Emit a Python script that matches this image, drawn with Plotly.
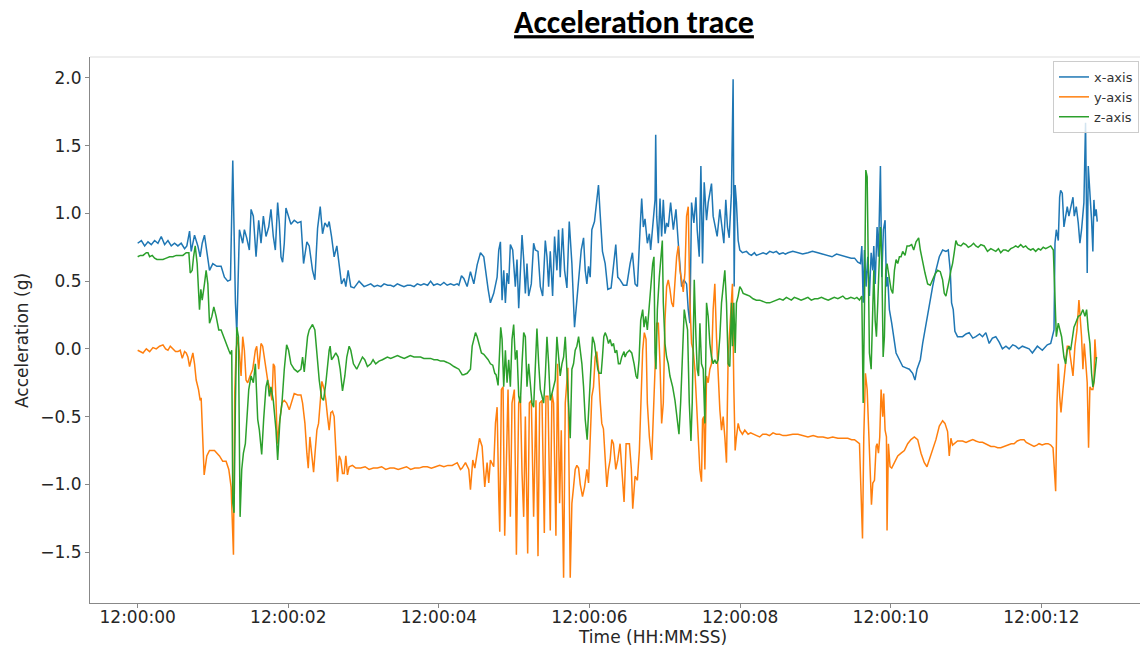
import pandas as pd
import plotly.graph_objects as go

# ---------------- data (seconds after 12:00:00, acceleration in g) ----------------
START = "2021-01-01 12:00:00"

x_axis_pts = [
    (0.000,0.78),(0.049,0.80),(0.093,0.76),(0.137,0.79),(0.181,0.77),(0.225,0.80),(0.269,0.78),(0.313,0.83),
    (0.358,0.77),(0.402,0.80),(0.446,0.76),(0.490,0.78),(0.534,0.76),(0.578,0.78),(0.623,0.74),(0.653,0.76),
    (0.689,0.87),(0.711,0.72),(0.755,0.84),(0.799,0.76),(0.830,0.68),(0.857,0.78),(0.887,0.84),(0.918,0.73),
    (0.954,0.58),(0.998,0.63),(1.051,0.61),(1.108,0.61),(1.152,0.53),(1.196,0.50),(1.232,0.51),(1.263,1.39),
    (1.298,0.34),(1.316,0.12),(1.351,0.88),(1.395,0.78),(1.417,0.88),(1.448,0.82),(1.483,0.73),(1.506,1.03),
    (1.536,0.98),(1.572,0.68),(1.607,0.95),(1.638,0.78),(1.669,0.98),(1.704,0.83),(1.740,0.90),(1.770,1.03),
    (1.801,0.83),(1.828,0.73),(1.859,1.08),(1.881,0.93),(1.903,0.68),(1.925,0.64),(1.947,0.78),(1.969,1.04),
    (2.004,0.98),(2.035,0.92),(2.079,0.95),(2.124,0.93),(2.168,0.94),(2.203,0.63),(2.247,0.79),(2.278,0.76),
    (2.322,0.58),(2.353,0.51),(2.389,0.89),(2.424,1.05),(2.455,0.85),(2.486,0.93),(2.521,0.90),(2.543,0.94),
    (2.574,0.83),(2.609,0.68),(2.645,0.76),(2.676,0.63),(2.707,0.48),(2.742,0.52),(2.764,0.46),(2.795,0.58),
    (2.830,0.46),(2.874,0.45),(2.940,0.50),(3.007,0.46),(3.050,0.47),(3.095,0.48),(3.140,0.46),(3.183,0.47),
    (3.230,0.46),(3.272,0.48),(3.320,0.47),(3.360,0.47),(3.400,0.46),(3.448,0.48),(3.490,0.47),(3.536,0.46),
    (3.580,0.47),(3.625,0.47),(3.670,0.46),(3.713,0.48),(3.760,0.47),(3.801,0.48),(3.850,0.47),(3.890,0.50),
    (3.930,0.47),(3.978,0.48),(4.020,0.47),(4.066,0.49),(4.110,0.47),(4.155,0.48),(4.200,0.47),(4.243,0.48),
    (4.265,0.47),(4.300,0.54),(4.331,0.52),(4.375,0.46),(4.419,0.57),(4.464,0.48),(4.508,0.62),(4.552,0.71),
    (4.596,0.68),(4.618,0.58),(4.654,0.44),(4.684,0.34),(4.728,0.41),(4.773,0.53),(4.795,0.73),(4.817,0.79),
    (4.839,0.36),(4.861,0.58),(4.883,0.34),(4.905,0.56),(4.927,0.48),(4.949,0.77),(4.980,0.73),(5.015,0.46),
    (5.037,0.66),(5.060,0.30),(5.082,0.53),(5.104,0.84),(5.126,0.66),(5.148,0.41),(5.170,0.63),(5.192,0.39),
    (5.227,0.48),(5.258,0.78),(5.280,0.73),(5.316,0.72),(5.347,0.46),(5.378,0.39),(5.413,0.80),(5.435,0.68),
    (5.457,0.46),(5.479,0.72),(5.510,0.39),(5.536,0.83),(5.567,0.58),(5.589,0.88),(5.611,0.53),(5.642,0.89),
    (5.669,0.58),(5.700,0.45),(5.731,0.94),(5.766,0.63),(5.801,0.16),(5.832,0.36),(5.863,0.58),(5.890,0.73),
    (5.921,0.82),(5.943,0.58),(5.965,0.48),(5.987,0.61),(6.009,0.53),(6.031,0.88),(6.066,0.94),(6.097,1.08),
    (6.119,1.21),(6.141,1.00),(6.172,0.72),(6.208,0.63),(6.243,0.44),(6.287,0.45),(6.318,0.63),(6.349,0.77),
    (6.375,0.53),(6.406,0.51),(6.450,0.47),(6.495,0.47),(6.539,0.63),(6.570,0.71),(6.605,0.48),(6.636,0.46),
    (6.671,0.88),(6.693,1.11),(6.715,0.90),(6.737,0.96),(6.768,0.78),(6.795,0.85),(6.812,0.73),(6.848,0.95),
    (6.870,1.10),(6.879,1.58),(6.892,0.98),(6.914,0.78),(6.936,1.11),(6.958,0.83),(6.980,1.10),(7.002,0.85),
    (7.024,0.93),(7.046,0.90),(7.077,1.08),(7.113,0.88),(7.148,1.03),(7.179,0.78),(7.201,0.64),(7.223,0.46),
    (7.254,0.51),(7.289,0.48),(7.311,0.29),(7.333,0.19),(7.355,1.08),(7.386,0.93),(7.413,1.12),(7.430,0.88),
    (7.457,0.68),(7.479,1.35),(7.501,0.63),(7.523,1.23),(7.554,0.95),(7.576,1.08),(7.598,1.15),(7.620,1.22),
    (7.642,0.98),(7.669,0.90),(7.695,0.83),(7.731,1.03),(7.757,0.88),(7.784,0.78),(7.810,1.10),(7.832,0.90),
    (7.855,0.82),(7.885,1.15),(7.907,1.99),(7.921,0.46),(7.934,1.21),(7.951,1.08),(7.974,0.80),(7.996,0.73),
    (8.031,0.71),(8.084,0.72),(8.120,0.70),(8.150,0.69),(8.190,0.71),(8.216,0.69),(8.260,0.70),(8.305,0.71),
    (8.350,0.70),(8.393,0.72),(8.440,0.71),(8.481,0.72),(8.520,0.70),(8.570,0.71),(8.600,0.70),(8.636,0.71),
    (8.700,0.72),(8.768,0.71),(8.830,0.70),(8.901,0.71),(8.960,0.72),(9.033,0.71),(9.100,0.70),(9.166,0.69),
    (9.220,0.68),(9.280,0.70),(9.342,0.69),(9.400,0.68),(9.475,0.67),(9.520,0.67),(9.563,0.64),(9.598,0.63),
    (9.616,0.76),(9.634,0.34),(9.651,0.73),(9.673,0.46),(9.695,0.68),(9.717,0.39),(9.740,0.71),(9.762,0.58),
    (9.775,0.76),(9.793,0.48),(9.819,0.90),(9.837,0.68),(9.863,1.35),(9.881,0.53),(9.903,0.88),(9.925,0.95),
    (9.943,0.46),(9.960,0.53),(9.982,0.29),(10.013,0.19),(10.049,0.07),(10.071,-0.03),(10.115,-0.08),
    (10.159,-0.13),(10.203,-0.14),(10.247,-0.15),(10.291,-0.18),(10.322,-0.23),(10.349,-0.15),(10.393,-0.08),
    (10.424,0.04),(10.468,0.19),(10.512,0.34),(10.556,0.46),(10.600,0.58),(10.645,0.68),(10.689,0.73),
    (10.733,0.72),(10.764,0.73),(10.790,0.58),(10.808,0.34),(10.830,0.29),(10.852,0.13),(10.887,0.09),
    (10.954,0.09),(11.000,0.11),(11.042,0.12),(11.090,0.08),(11.130,0.09),(11.180,0.11),(11.219,0.09),
    (11.263,0.12),(11.307,0.04),(11.350,0.08),(11.395,0.09),(11.440,0.05),(11.483,0.00),(11.530,0.02),
    (11.572,0.00),(11.620,0.03),(11.660,0.02),(11.700,0.00),(11.748,0.02),(11.790,0.01),(11.837,0.00),
    (11.881,-0.03),(11.947,0.02),(12.013,-0.01),(12.079,0.03),(12.124,0.04),(12.146,0.09),(12.168,0.14),
    (12.181,0.78),(12.199,0.88),(12.225,0.80),(12.243,1.12),(12.256,1.17),(12.278,1.15),(12.300,0.90),
    (12.322,0.98),(12.344,1.05),(12.366,0.98),(12.389,1.05),(12.420,1.12),(12.437,0.98),(12.464,1.05),
    (12.490,0.93),(12.512,0.78),(12.534,0.88),(12.565,1.08),(12.587,1.67),(12.609,0.56),(12.623,1.35),
    (12.640,1.20),(12.667,0.95),(12.684,0.72),(12.698,1.10),(12.711,0.98),(12.728,1.03),(12.742,0.94),
]

y_axis_pts = [
    (0.000,-0.01),(0.071,-0.03),(0.115,0.00),(0.159,-0.02),(0.203,0.01),(0.247,0.00),(0.291,0.02),(0.336,0.03),
    (0.371,0.00),(0.402,-0.01),(0.433,0.02),(0.468,0.00),(0.503,-0.02),(0.534,-0.02),(0.565,-0.01),(0.592,-0.07),
    (0.623,-0.02),(0.645,-0.03),(0.667,-0.06),(0.689,-0.13),(0.711,-0.08),(0.733,-0.03),(0.755,-0.11),(0.777,-0.23),
    (0.808,-0.30),(0.830,-0.38),(0.843,-0.36),(0.865,-0.72),(0.883,-0.93),(0.918,-0.79),(0.954,-0.75),(1.020,-0.75),
    (1.086,-0.79),(1.130,-0.83),(1.174,-0.83),(1.210,-0.89),(1.241,-1.02),(1.272,-1.52),(1.289,-0.33),(1.307,-0.01),
    (1.329,0.09),(1.351,-0.03),(1.373,-0.20),(1.395,0.09),(1.417,-0.01),(1.439,-0.23),(1.461,-0.25),(1.492,-0.20),
    (1.528,-0.15),(1.563,-0.01),(1.581,0.02),(1.607,-0.15),(1.638,0.04),(1.660,0.02),(1.695,-0.11),(1.726,-0.23),
    (1.757,-0.30),(1.784,-0.38),(1.801,-0.11),(1.819,-0.13),(1.837,-0.38),(1.854,-0.70),(1.881,-0.55),(1.916,-0.40),
    (1.947,-0.38),(1.978,-0.40),(2.013,-0.45),(2.057,-0.38),(2.079,-0.33),(2.124,-0.34),(2.168,-0.34),(2.190,-0.40),
    (2.221,-0.55),(2.247,-0.77),(2.265,-0.88),(2.287,-0.65),(2.309,-0.77),(2.336,-0.91),(2.358,-0.75),(2.380,-0.60),
    (2.402,-0.55),(2.424,-0.40),(2.446,-0.24),(2.477,-0.30),(2.499,-0.38),(2.521,-0.50),(2.543,-0.60),(2.565,-0.47),
    (2.587,-0.46),(2.609,-0.50),(2.631,-0.79),(2.653,-0.98),(2.676,-0.79),(2.698,-0.82),(2.720,-0.92),(2.742,-0.92),
    (2.764,-0.79),(2.786,-0.93),(2.808,-0.87),(2.852,-0.86),(2.896,-0.88),(2.962,-0.88),(3.020,-0.87),(3.073,-0.89),
    (3.130,-0.88),(3.183,-0.88),(3.240,-0.87),(3.294,-0.89),(3.350,-0.88),(3.404,-0.88),(3.460,-0.89),(3.515,-0.88),
    (3.570,-0.87),(3.625,-0.89),(3.680,-0.88),(3.735,-0.88),(3.790,-0.87),(3.846,-0.87),(3.900,-0.88),(3.956,-0.87),
    (4.010,-0.86),(4.066,-0.87),(4.120,-0.86),(4.177,-0.86),(4.243,-0.84),(4.287,-0.89),(4.309,-0.88),(4.353,-0.84),
    (4.397,-0.89),(4.419,-1.04),(4.450,-0.82),(4.477,-0.88),(4.508,-0.75),(4.539,-0.66),(4.574,-0.72),(4.596,-0.87),
    (4.609,-1.02),(4.640,-0.84),(4.662,-0.99),(4.684,-0.82),(4.706,-0.84),(4.728,-0.87),(4.751,-0.55),(4.773,-0.43),
    (4.795,-1.09),(4.808,-1.35),(4.830,-0.30),(4.852,-0.28),(4.874,-1.38),(4.896,-0.82),(4.918,-0.30),(4.949,-1.24),
    (4.971,-0.40),(5.002,-0.30),(5.029,-1.52),(5.060,-0.40),(5.082,-0.35),(5.104,-0.92),(5.126,-1.24),(5.148,-0.50),
    (5.179,-1.51),(5.201,-0.40),(5.227,-0.38),(5.258,-1.24),(5.289,-0.38),(5.316,-1.53),(5.338,-0.40),(5.369,-0.38),
    (5.400,-1.36),(5.422,-0.35),(5.448,-0.35),(5.479,-1.34),(5.501,-0.33),(5.523,-0.40),(5.554,-1.38),(5.576,-0.11),
    (5.603,-1.14),(5.625,-0.60),(5.656,-1.69),(5.678,-0.40),(5.713,-0.14),(5.744,-1.69),(5.766,-1.14),(5.788,-1.02),
    (5.810,-0.89),(5.832,-0.86),(5.855,-0.88),(5.877,-1.00),(5.907,-1.09),(5.934,-1.02),(5.965,-0.89),(5.987,-0.99),
    (6.009,-0.65),(6.031,-0.35),(6.053,-0.28),(6.075,-0.06),(6.097,-0.02),(6.119,-0.15),(6.141,-0.38),(6.163,-0.55),
    (6.185,-0.59),(6.208,-0.84),(6.230,-1.02),(6.252,-0.89),(6.274,-0.82),(6.296,-0.67),(6.318,-0.70),(6.349,-0.89),
    (6.375,-0.82),(6.406,-0.70),(6.428,-0.89),(6.459,-1.13),(6.486,-0.70),(6.530,-0.70),(6.556,-0.89),(6.574,-1.18),
    (6.605,-0.94),(6.636,-0.97),(6.662,-0.75),(6.680,-0.40),(6.706,-0.01),(6.728,0.12),(6.751,0.07),(6.768,-0.40),
    (6.795,-0.65),(6.826,-0.82),(6.848,-0.40),(6.870,-0.15),(6.892,0.19),(6.914,0.19),(6.936,-0.11),(6.958,-0.55),
    (6.980,-0.40),(7.002,0.21),(7.024,0.46),(7.046,0.51),(7.068,0.44),(7.091,0.34),(7.113,0.31),(7.135,0.51),
    (7.157,0.68),(7.179,0.76),(7.201,0.58),(7.223,0.51),(7.245,0.42),(7.267,0.56),(7.289,0.98),(7.311,1.05),
    (7.333,0.34),(7.355,0.04),(7.377,-0.01),(7.399,-0.15),(7.421,-0.40),(7.443,-0.65),(7.465,-0.89),(7.487,-0.98),
    (7.501,-0.52),(7.518,-0.50),(7.532,-0.89),(7.554,-0.20),(7.576,-0.25),(7.598,-0.15),(7.620,-0.11),(7.642,0.29),
    (7.664,0.48),(7.686,0.09),(7.708,-0.23),(7.731,-0.45),(7.753,-0.60),(7.775,-0.50),(7.797,-0.65),(7.819,-0.84),
    (7.841,-0.06),(7.863,0.19),(7.885,0.39),(7.898,0.48),(7.916,-0.28),(7.934,-0.75),(7.951,-0.65),(7.974,-0.55),
    (7.996,-0.60),(8.031,-0.63),(8.062,-0.60),(8.106,-0.63),(8.140,-0.62),(8.172,-0.63),(8.220,-0.64),(8.260,-0.65),
    (8.300,-0.63),(8.349,-0.63),(8.390,-0.64),(8.437,-0.62),(8.480,-0.63),(8.525,-0.63),(8.570,-0.64),(8.614,-0.64),
    (8.700,-0.63),(8.768,-0.63),(8.830,-0.64),(8.901,-0.65),(8.970,-0.64),(9.033,-0.65),(9.100,-0.65),(9.166,-0.66),
    (9.230,-0.65),(9.298,-0.66),(9.360,-0.66),(9.430,-0.66),(9.480,-0.67),(9.519,-0.67),(9.585,-0.70),(9.607,-1.02),
    (9.625,-1.40),(9.642,-0.65),(9.664,-0.18),(9.687,-0.30),(9.709,-0.65),(9.731,-1.02),(9.744,-1.15),(9.762,-0.99),
    (9.784,-0.97),(9.806,-0.72),(9.819,-0.70),(9.837,-0.77),(9.854,-0.65),(9.872,-0.30),(9.894,-0.50),(9.907,-0.33),
    (9.925,-0.60),(9.943,-0.65),(9.951,-1.34),(9.969,-0.70),(9.991,-0.87),(10.013,-0.88),(10.049,-0.84),
    (10.093,-0.79),(10.137,-0.77),(10.181,-0.75),(10.225,-0.70),(10.269,-0.67),(10.313,-0.65),(10.358,-0.67),
    (10.402,-0.77),(10.446,-0.84),(10.481,-0.87),(10.512,-0.82),(10.556,-0.75),(10.600,-0.67),(10.645,-0.57),
    (10.689,-0.53),(10.720,-0.55),(10.755,-0.61),(10.777,-0.79),(10.799,-0.66),(10.821,-0.71),(10.887,-0.68),
    (10.954,-0.68),(11.000,-0.69),(11.042,-0.68),(11.090,-0.67),(11.130,-0.68),(11.180,-0.69),(11.219,-0.69),
    (11.285,-0.71),(11.330,-0.72),(11.373,-0.72),(11.420,-0.73),(11.461,-0.73),(11.510,-0.72),(11.550,-0.71),
    (11.600,-0.70),(11.638,-0.70),(11.680,-0.68),(11.726,-0.67),(11.770,-0.67),(11.800,-0.69),(11.837,-0.70),
    (11.870,-0.71),(11.903,-0.72),(11.940,-0.71),(11.969,-0.70),(12.010,-0.71),(12.057,-0.70),(12.090,-0.70),
    (12.124,-0.71),(12.155,-0.73),(12.172,-0.89),(12.190,-1.05),(12.208,-0.40),(12.225,-0.11),(12.243,-0.35),
    (12.261,-0.47),(12.287,-0.30),(12.314,-0.13),(12.344,0.02),(12.366,0.02),(12.393,-0.08),(12.420,-0.20),
    (12.446,0.02),(12.473,0.14),(12.499,0.36),(12.517,0.24),(12.534,0.09),(12.552,-0.15),(12.570,0.04),
    (12.587,-0.08),(12.609,-0.25),(12.627,-0.73),(12.645,-0.28),(12.667,-0.30),(12.684,-0.30),(12.698,-0.25),
    (12.711,0.07),(12.728,-0.08),
]

z_axis_pts = [
    (0.000,0.68),(0.035,0.69),(0.071,0.69),(0.115,0.71),(0.137,0.71),(0.159,0.68),(0.194,0.69),(0.225,0.67),
    (0.256,0.66),(0.291,0.66),(0.336,0.66),(0.380,0.67),(0.424,0.68),(0.468,0.68),(0.512,0.69),(0.556,0.69),
    (0.600,0.69),(0.645,0.71),(0.680,0.71),(0.698,0.56),(0.724,0.58),(0.742,0.68),(0.764,0.76),(0.790,0.63),
    (0.821,0.29),(0.839,0.44),(0.857,0.36),(0.887,0.48),(0.909,0.58),(0.932,0.48),(0.954,0.19),(0.985,0.24),
    (1.011,0.31),(1.042,0.24),(1.077,0.14),(1.108,0.14),(1.139,0.09),(1.174,0.04),(1.210,-0.01),(1.232,-0.04),
    (1.249,-0.01),(1.263,-1.14),(1.280,-1.21),(1.298,-0.40),(1.316,0.16),(1.338,0.09),(1.360,-1.24),(1.382,-0.89),
    (1.404,-0.77),(1.430,-0.70),(1.448,-0.52),(1.475,-0.30),(1.506,-0.20),(1.536,-0.25),(1.563,-0.11),(1.594,-0.52),
    (1.616,-0.60),(1.647,-0.78),(1.673,-0.52),(1.704,-0.28),(1.726,-0.23),(1.748,-0.35),(1.770,-0.28),(1.801,-0.38),
    (1.837,-0.60),(1.859,-0.82),(1.890,-0.52),(1.916,-0.40),(1.947,-0.15),(1.978,0.03),(2.004,-0.01),(2.035,-0.11),
    (2.079,-0.15),(2.124,-0.17),(2.168,-0.15),(2.190,-0.06),(2.212,-0.17),(2.234,-0.01),(2.256,0.09),(2.278,0.14),
    (2.300,0.16),(2.322,0.18),(2.353,0.14),(2.380,-0.03),(2.411,-0.23),(2.442,-0.36),(2.468,-0.38),(2.499,-0.25),
    (2.521,-0.11),(2.543,-0.01),(2.556,0.02),(2.574,-0.08),(2.600,-0.06),(2.631,-0.03),(2.662,-0.06),(2.689,-0.15),
    (2.720,-0.31),(2.751,-0.20),(2.777,-0.06),(2.808,0.02),(2.830,-0.01),(2.865,-0.11),(2.909,-0.15),(2.940,-0.11),
    (2.985,-0.06),(3.015,-0.08),(3.051,-0.13),(3.095,-0.11),(3.126,-0.08),(3.161,-0.11),(3.205,-0.09),(3.250,-0.08),
    (3.316,-0.06),(3.360,-0.07),(3.404,-0.06),(3.450,-0.05),(3.492,-0.06),(3.540,-0.07),(3.581,-0.06),(3.620,-0.05),
    (3.669,-0.06),(3.710,-0.06),(3.757,-0.06),(3.800,-0.07),(3.846,-0.07),(3.890,-0.07),(3.934,-0.08),(3.980,-0.08),
    (4.022,-0.09),(4.066,-0.09),(4.110,-0.10),(4.150,-0.11),(4.199,-0.13),(4.235,-0.14),(4.265,-0.15),(4.309,-0.19),
    (4.331,-0.19),(4.375,-0.18),(4.419,-0.15),(4.442,0.02),(4.464,0.07),(4.486,0.12),(4.508,0.09),(4.539,0.02),
    (4.565,-0.03),(4.596,-0.04),(4.627,-0.06),(4.654,-0.08),(4.684,-0.11),(4.715,-0.12),(4.742,-0.18),(4.759,-0.19),
    (4.786,-0.27),(4.803,-0.03),(4.821,0.16),(4.839,0.07),(4.861,-0.28),(4.883,-0.01),(4.905,-0.25),(4.927,-0.08),
    (4.949,-0.28),(4.971,0.07),(4.993,0.18),(5.015,-0.08),(5.037,-0.01),(5.060,-0.35),(5.082,-0.40),(5.104,-0.11),
    (5.126,0.12),(5.148,0.09),(5.170,-0.28),(5.192,-0.11),(5.214,-0.23),(5.236,-0.40),(5.258,-0.43),(5.280,-0.15),
    (5.302,0.15),(5.325,-0.11),(5.347,-0.30),(5.369,-0.35),(5.391,-0.40),(5.413,-0.20),(5.435,0.09),(5.457,-0.11),
    (5.479,-0.38),(5.501,-0.33),(5.523,-0.28),(5.545,-0.23),(5.567,0.09),(5.589,-0.03),(5.611,-0.20),(5.634,-0.11),
    (5.656,-0.06),(5.678,0.09),(5.700,-0.13),(5.722,-0.40),(5.744,-0.66),(5.766,-0.15),(5.788,-0.11),(5.810,-0.01),
    (5.832,0.02),(5.855,0.09),(5.877,-0.01),(5.899,-0.11),(5.921,-0.28),(5.943,-0.52),(5.969,-0.67),(5.996,-0.40),
    (6.018,-0.15),(6.040,0.09),(6.066,0.04),(6.088,-0.06),(6.110,-0.15),(6.128,-0.18),(6.155,-0.18),(6.172,-0.06),
    (6.190,0.09),(6.208,0.12),(6.230,0.09),(6.252,0.04),(6.274,0.07),(6.296,0.02),(6.318,0.04),(6.340,-0.03),
    (6.362,-0.01),(6.384,-0.11),(6.406,-0.11),(6.428,-0.06),(6.459,-0.02),(6.472,-0.06),(6.495,-0.03),(6.530,-0.01),
    (6.561,-0.03),(6.592,-0.11),(6.618,-0.20),(6.636,-0.22),(6.658,-0.08),(6.680,0.21),(6.706,0.29),(6.724,0.16),
    (6.746,0.24),(6.768,0.14),(6.795,0.34),(6.812,0.48),(6.839,0.63),(6.856,0.68),(6.870,-0.03),(6.883,-0.15),
    (6.901,0.29),(6.927,0.53),(6.945,0.68),(6.967,0.80),(6.980,0.34),(7.002,0.04),(7.024,-0.06),(7.046,-0.11),
    (7.068,-0.20),(7.104,-0.28),(7.135,-0.38),(7.166,-0.52),(7.188,-0.63),(7.210,-0.40),(7.236,-0.06),(7.258,0.29),
    (7.280,0.21),(7.302,0.14),(7.325,-0.40),(7.347,-0.68),(7.364,-0.40),(7.377,0.19),(7.391,0.51),(7.413,0.09),
    (7.430,-0.15),(7.448,-0.20),(7.466,0.19),(7.487,-0.11),(7.510,-0.15),(7.532,-0.55),(7.554,0.34),(7.576,0.24),
    (7.598,0.04),(7.620,-0.06),(7.642,-0.11),(7.664,-0.08),(7.686,-0.11),(7.708,-0.08),(7.731,0.09),(7.753,0.34),
    (7.775,0.46),(7.797,0.58),(7.819,0.34),(7.841,-0.11),(7.863,-0.13),(7.885,0.34),(7.898,0.02),(7.916,0.34),
    (7.934,-0.03),(7.951,0.34),(7.974,0.39),(7.996,0.46),(8.018,0.44),(8.040,0.41),(8.084,0.40),(8.128,0.39),
    (8.172,0.37),(8.216,0.36),(8.260,0.36),(8.305,0.35),(8.349,0.34),(8.393,0.34),(8.437,0.35),(8.481,0.36),
    (8.525,0.37),(8.570,0.36),(8.614,0.38),(8.680,0.36),(8.720,0.38),(8.768,0.37),(8.810,0.36),(8.857,0.37),
    (8.900,0.38),(8.945,0.36),(8.990,0.37),(9.033,0.37),(9.080,0.38),(9.121,0.37),(9.170,0.36),(9.210,0.37),
    (9.250,0.38),(9.298,0.37),(9.330,0.38),(9.364,0.39),(9.400,0.37),(9.430,0.37),(9.470,0.38),(9.519,0.37),
    (9.550,0.38),(9.585,0.36),(9.616,0.39),(9.634,-0.40),(9.651,0.29),(9.669,1.32),(9.687,1.27),(9.704,0.46),
    (9.717,-0.03),(9.740,-0.15),(9.753,0.14),(9.775,0.58),(9.793,0.21),(9.810,0.09),(9.828,0.34),(9.846,0.58),
    (9.863,0.90),(9.881,0.68),(9.899,-0.06),(9.916,0.09),(9.934,0.58),(9.951,0.63),(9.978,0.53),(10.004,0.44),
    (10.027,0.41),(10.049,0.58),(10.071,0.66),(10.093,0.63),(10.115,0.68),(10.137,0.68),(10.159,0.72),
    (10.190,0.69),(10.216,0.76),(10.247,0.76),(10.278,0.77),(10.305,0.73),(10.336,0.79),(10.371,0.82),
    (10.393,0.73),(10.424,0.63),(10.455,0.56),(10.490,0.48),(10.525,0.47),(10.556,0.51),(10.587,0.55),
    (10.623,0.58),(10.658,0.57),(10.689,0.51),(10.711,0.41),(10.733,0.39),(10.755,0.44),(10.777,0.51),
    (10.799,0.58),(10.821,0.63),(10.843,0.71),(10.865,0.80),(10.887,0.77),(10.932,0.76),(10.965,0.78),
    (10.998,0.77),(11.030,0.75),(11.064,0.76),(11.100,0.78),(11.130,0.76),(11.160,0.75),(11.197,0.77),
    (11.241,0.76),(11.285,0.72),(11.329,0.74),(11.360,0.73),(11.395,0.72),(11.430,0.74),(11.461,0.71),
    (11.495,0.73),(11.528,0.73),(11.560,0.72),(11.594,0.74),(11.630,0.75),(11.660,0.76),(11.690,0.75),
    (11.726,0.77),(11.760,0.75),(11.792,0.76),(11.825,0.74),(11.859,0.73),(11.890,0.74),(11.925,0.72),
    (11.960,0.74),(11.991,0.73),(12.025,0.75),(12.057,0.74),(12.090,0.75),(12.124,0.76),(12.159,0.73),
    (12.181,0.39),(12.199,0.09),(12.225,0.19),(12.243,0.14),(12.269,0.09),(12.300,-0.06),(12.322,-0.11),
    (12.344,-0.01),(12.366,0.02),(12.389,-0.01),(12.411,0.09),(12.433,0.16),(12.455,0.19),(12.490,0.24),
    (12.521,0.25),(12.552,0.29),(12.579,0.24),(12.601,0.29),(12.623,0.14),(12.645,0.04),(12.667,-0.18),
    (12.684,-0.28),(12.702,-0.23),(12.720,-0.11),(12.733,-0.06),
]

series_names = ["x-axis", "y-axis", "z-axis"]
series_colors = ["#1f77b4", "#ff7f0e", "#2ca02c"]
tick_seconds = [0, 2, 4, 6, 8, 10, 12]

base = pd.Timestamp(START)


def to_times(secs):
    return [base + pd.Timedelta(seconds=s) for s in secs]


fig = go.Figure()
for name, pts, color in zip(series_names, [x_axis_pts, y_axis_pts, z_axis_pts], series_colors):
    t, v = zip(*pts)
    fig.add_trace(go.Scatter(x=to_times(t), y=list(v), mode="lines", name=name,
                             line=dict(color=color, width=1.5)))

FONT = "DejaVu Sans, Verdana, sans-serif"
x_start = base + pd.Timedelta(seconds=-0.633)
x_end = base + pd.Timedelta(seconds=13.31)

fig.update_layout(
    width=1140, height=652,
    margin=dict(l=90, r=0, t=57, b=49),
    paper_bgcolor="white", plot_bgcolor="white",
    title=dict(text="<b><u>Acceleration trace</u></b>",
               font=dict(family="Carlito, Lato, sans-serif", size=32, color="black"),
               x=634 / 1140, xanchor="center", xref="container",
               y=1 - 22 / 652, yanchor="middle", yref="container"),
    xaxis=dict(type="date", range=[x_start, x_end],
               tickvals=to_times(tick_seconds), tickformat="%H:%M:%S",
               ticks="outside", ticklen=4, tickcolor="#888", tickwidth=1,
               ticklabelstandoff=-5,
               showline=True, linecolor="#888", linewidth=1,
               showgrid=False, zeroline=False,
               tickfont=dict(family=FONT, size=17, color="#262626")),
    yaxis=dict(range=[-1.876, 2.155], dtick=0.5, tick0=0, tickformat=".1f",
               ticks="outside", ticklen=4, tickcolor="#888", tickwidth=1,
               showline=True, linecolor="#888", linewidth=1,
               showgrid=False, zeroline=False,
               tickfont=dict(family=FONT, size=17, color="#262626")),
    legend=dict(x=(1053 - 90) / 1050, xanchor="left", y=(603 - 61) / 546, yanchor="top",
                bgcolor="rgba(255,255,255,0.8)", bordercolor="#cccccc", borderwidth=1,
                font=dict(family=FONT, size=13, color="#333333")),
    showlegend=True,
)

fig.add_shape(type="line", xref="paper", yref="paper", x0=0, x1=1, y0=1, y1=1,
              line=dict(color="#dddddd", width=1))

fig.add_annotation(text="Time (HH:MM:SS)", xref="paper", yref="paper",
                   x=(652 - 90) / 1050, y=(603 - 637) / 546, xanchor="center", yanchor="middle",
                   showarrow=False, font=dict(family=FONT, size=17, color="#262626"))
fig.add_annotation(text="Acceleration (g)", xref="paper", yref="paper",
                   x=(22 - 90) / 1050, y=(603 - 341) / 546, xanchor="center", yanchor="middle",
                   textangle=-90, showarrow=False, font=dict(family=FONT, size=17, color="#262626"))

fig.write_html("out.html")
